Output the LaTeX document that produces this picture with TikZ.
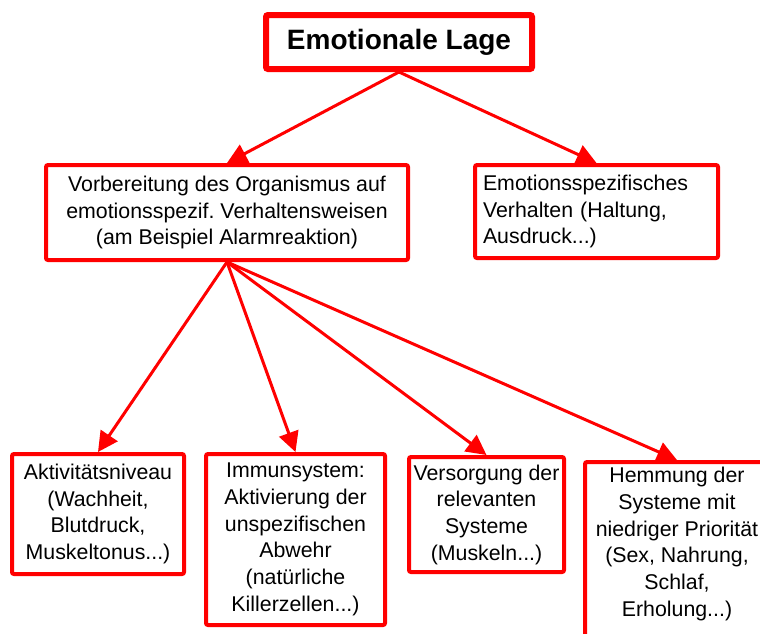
\documentclass[tikz,border=0pt]{standalone}
\usepackage{fontspec}
\setmainfont{Liberation Sans}
\usetikzlibrary{arrows.meta}
\newcommand{\pxu}{0.75pt}
\frenchspacing

\begin{document}
\begin{tikzpicture}[x=0.75pt,y=-0.75pt,
    kasten/.style={draw=red,line width=3pt,fill=white,rounded corners=1.5pt,
        align=center,inner sep=0pt,font=\fontsize{16}{20}\selectfont},
    pfeil/.style={red,line width=2.25pt,-{Triangle[length=15pt,width=15pt]}}]
\useasboundingbox (0,0) rectangle (760,633);
\clip (0,0) rectangle (760,633);
\node[kasten,line width=4.5pt,font=\fontsize{21}{25}\selectfont\bfseries,
    minimum width=266*\pxu,minimum height=54*\pxu] (lage) at (399,42) {Emotionale Lage};
\node[kasten,minimum width=362*\pxu,minimum height=95*\pxu] (vorb) at (227,212.5)
    {Vorbereitung des Organismus auf\\emotionsspezif. Verhaltensweisen\\(am Beispiel Alarmreaktion)};
\node[kasten,align=left,text width=227*\pxu,inner xsep=8*\pxu,minimum height=93*\pxu] (verh) at (596.5,211.5)
    {Emotionsspezifisches\\Verhalten (Haltung,\\Ausdruck...)};
\node[kasten,minimum width=172*\pxu,minimum height=120*\pxu] (akt) at (98,514)
    {Aktivitätsniveau\\(Wachheit,\\Blutdruck,\\Muskeltonus...)};
\node[kasten,minimum width=179*\pxu,minimum height=171*\pxu] (imm) at (295.5,539.5)
    {Immunsystem:\\Aktivierung der\\unspezifischen\\Abwehr\\(natürliche\\Killerzellen...)};
\node[kasten,minimum width=155*\pxu,minimum height=115*\pxu] (vers) at (486.5,514.5)
    {Versorgung der\\relevanten\\Systeme\\(Muskeln...)};
\node[kasten,anchor=north,minimum width=184*\pxu,inner ysep=4pt,text depth=120pt] (hemm) at (677,460)
    {Hemmung der\\Systeme mit\\niedriger Priorität\\(Sex, Nahrung,\\Schlaf,\\Erholung...)};
% Pfeile
\draw[pfeil] (lage.south) -- (vorb.north);
\draw[pfeil] (lage.south) -- (verh.north);
\foreach \ziel in {akt,imm,vers,hemm}
    \draw[pfeil] (vorb.south) -- (\ziel.north);
\end{tikzpicture}
\end{document}
